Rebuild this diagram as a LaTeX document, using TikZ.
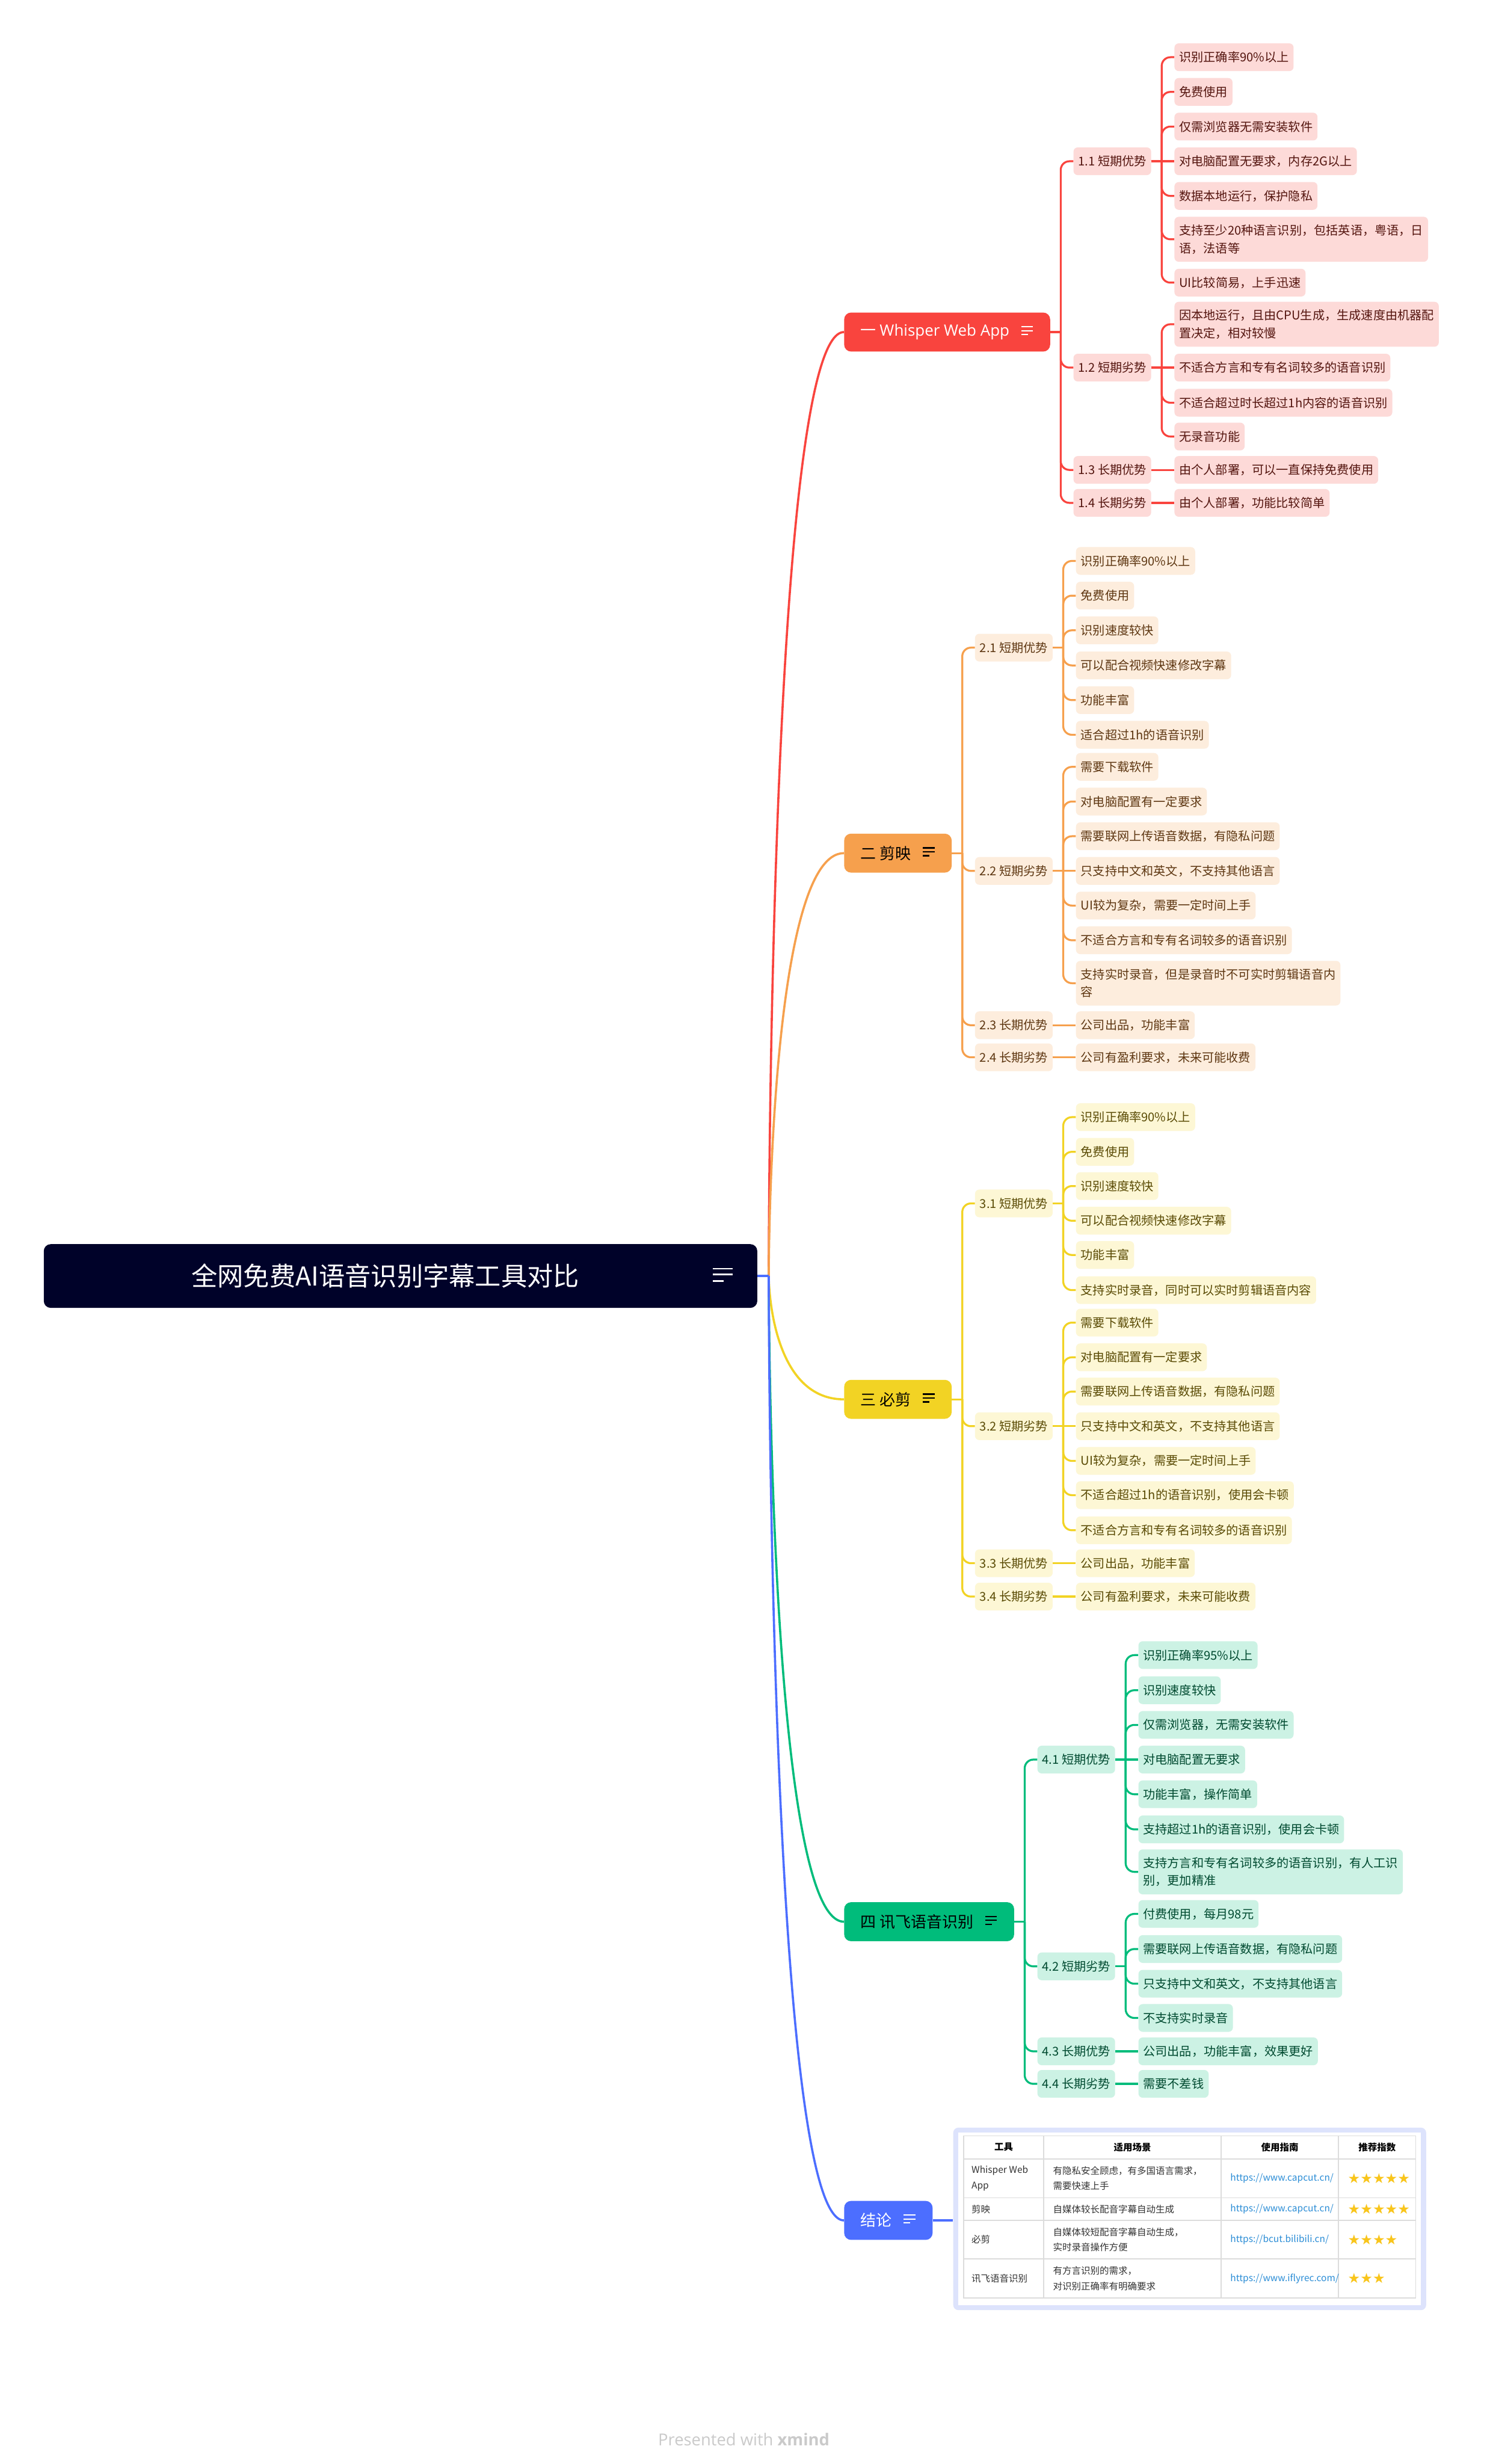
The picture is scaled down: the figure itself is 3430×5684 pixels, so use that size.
\documentclass[tikz,border=0pt]{standalone}
\usepackage{fontspec}
\setmainfont{Noto Sans CJK SC}
\newfontfamily\lat{Open Sans}
\newfontfamily\dvs{DejaVu Sans}
\definecolor{rootc}{HTML}{000229}
\definecolor{cR}{HTML}{F9443E}
\definecolor{cO}{HTML}{F6A04D}
\definecolor{cY}{HTML}{F2D324}
\definecolor{cG}{HTML}{00BC7B}
\definecolor{cB}{HTML}{4C6EFF}
\definecolor{fR}{HTML}{FDDAD8}
\definecolor{tR}{HTML}{54150F}
\definecolor{fO}{HTML}{FDEDDD}
\definecolor{tO}{HTML}{5E3712}
\definecolor{fY}{HTML}{FDF7D5}
\definecolor{tY}{HTML}{5A4B05}
\definecolor{fG}{HTML}{CCF2E4}
\definecolor{tG}{HTML}{004A30}
\definecolor{frameB}{HTML}{DDE3FC}
\definecolor{gridc}{HTML}{DCDCDC}
\definecolor{linkc}{HTML}{2B8DD6}
\definecolor{starc}{HTML}{F9C51B}
\definecolor{tblt}{HTML}{333333}
\definecolor{ftc}{HTML}{CACACA}
\tikzset{
  lf/.style={anchor=west, rounded corners=5pt, inner xsep=5.5pt, inner ysep=9pt, minimum height=32pt, align=left, font=\fontsize{14pt}{20.5pt}\selectfont},
  lfR/.style={lf, fill=fR, text=tR},
  lfO/.style={lf, fill=fO, text=tO},
  lfY/.style={lf, fill=fY, text=tY},
  lfG/.style={lf, fill=fG, text=tG},
  lone/.style={anchor=west, rounded corners=8pt, inner xsep=19pt, inner ysep=0pt, minimum height=45pt, font=\fontsize{18pt}{22pt}\selectfont},
  ln/.style={line width=2.25pt},
  rln/.style={line width=2.5pt},
  ic/.style={line width=1.5pt},
  tb/.style={anchor=west, inner sep=0pt, align=left, text=tblt, font=\fontsize{10.75pt}{17.5pt}\selectfont},
  th/.style={inner sep=0pt, text=black, font=\fontsize{10.75pt}{17.5pt}\selectfont\bfseries},
  lk/.style={anchor=west, inner sep=0pt, text=linkc, font=\fontsize{10.75pt}{17.5pt}\selectfont},
  st/.style={anchor=west, inner sep=0pt, text=starc, font=\dvs\fontsize{16pt}{16pt}\selectfont},
}
\newcommand\gapbox[1]{\hbox to #1{}}
\newcommand\kidnode[5]{%
  \path (#3.east) ++(26.5pt,0pt) coordinate (tmpa);
  \node[#1] (#2) at (tmpa |- 0,#4) {#5};}
\newcommand\elbow[3]{%
  \draw[ln,#1] (#2.east) -- ++(12pt,0pt);
  \draw[ln,#1,rounded corners=10pt] ([xshift=12pt]#2.east) |- (#3.west);}
\newcommand\flatln[3]{\draw[ln,#1] (#2.east) -- (#3.west);}
\newcommand\noteicn[2]{%
  \draw[ic,#2] ([xshift=-33.5pt,yshift=6pt]#1.east) -- ++(13.5pt,0pt);
  \draw[ic,#2] ([xshift=-33.5pt,yshift=1.5pt]#1.east) -- ++(13.5pt,0pt);
  \draw[ic,#2] ([xshift=-33.5pt,yshift=-3pt]#1.east) -- ++(7.5pt,0pt);}
\begin{document}
\begin{tikzpicture}[x=0.5pt,y=-0.5pt]
\useasboundingbox[fill=white] (0,0) rectangle (3430,5684);

% root
\node[rounded corners=8pt, minimum width=823pt, minimum height=73.5pt, inner sep=0pt, fill=rootc, text=white, font=\fontsize{30pt}{36pt}\selectfont] (root) at (924,2943.5) {全网免费AI语音识别字幕工具对比\gapbox{35pt}};
\draw[white, line width=1.9pt] ([xshift=-51.5pt,yshift=8.5pt]root.east) -- ++(23pt,0pt);
\draw[white, line width=1.9pt] ([xshift=-51.5pt,yshift=1.75pt]root.east) -- ++(23pt,0pt);
\draw[white, line width=1.9pt] ([xshift=-51.5pt,yshift=-5.75pt]root.east) -- ++(12.5pt,0pt);
\coordinate (J) at ([xshift=13pt]root.east);

% level 1
\node[lone, fill=cR, text=white] (n1) at (1947,766) {一 {\lat Whisper Web App}\gapbox{28pt}};
\node[lone, fill=cO, text=black] (n2) at (1947,1968) {二 剪映\gapbox{28pt}};
\node[lone, fill=cY, text=black] (n3) at (1947,3228) {三 必剪\gapbox{28pt}};
\node[lone, fill=cG, text=black] (n4) at (1947,4433) {四 讯飞语音识别\gapbox{28pt}};
\node[lone, fill=cB, text=white] (n5) at (1947,5122) {结论\gapbox{28pt}};
\noteicn{n1}{white}\noteicn{n2}{black}\noteicn{n3}{black}\noteicn{n4}{black}\noteicn{n5}{white}

\draw[rln,cR] (J) .. controls (J) and (J |- n1.west) .. (n1.west);
\draw[rln,cO] (J) .. controls (J) and (J |- n2.west) .. (n2.west);
\draw[rln,cY] (J) .. controls (J) and (J |- n3.west) .. (n3.west);
\draw[rln,cG] (J) .. controls (J) and (J |- n4.west) .. (n4.west);
\draw[rln,cB] (J) .. controls (J) and (J |- n5.west) .. (n5.west);
\draw[rln,cB] (root.east) -- (J);

% ===== branch 1
\kidnode{lfR}{p11}{n1}{372}{1.1 短期优势}
\kidnode{lfR}{p12}{n1}{848}{1.2 短期劣势}
\kidnode{lfR}{p13}{n1}{1084}{1.3 长期优势}
\kidnode{lfR}{p14}{n1}{1160}{1.4 长期劣势}
\elbow{cR}{n1}{p11}\elbow{cR}{n1}{p12}\elbow{cR}{n1}{p13}\elbow{cR}{n1}{p14}
\kidnode{lfR}{a1}{p11}{132}{识别正确率90\%以上}
\kidnode{lfR}{a2}{p11}{212}{免费使用}
\kidnode{lfR}{a3}{p11}{292}{仅需浏览器无需安装软件}
\kidnode{lfR}{a4}{p11}{372}{对电脑配置无要求，内存2G以上}
\kidnode{lfR}{a5}{p11}{452}{数据本地运行，保护隐私}
\kidnode{lfR}{a6}{p11}{552}{支持至少20种语言识别，包括英语，粤语，日\\语，法语等}
\kidnode{lfR}{a7}{p11}{652}{UI比较简易，上手迅速}
\elbow{cR}{p11}{a1}\elbow{cR}{p11}{a2}\elbow{cR}{p11}{a3}\flatln{cR}{p11}{a4}
\elbow{cR}{p11}{a5}\elbow{cR}{p11}{a6}\elbow{cR}{p11}{a7}
\kidnode{lfR}{b1}{p12}{748}{因本地运行，且由CPU生成，生成速度由机器配\\置决定，相对较慢}
\kidnode{lfR}{b2}{p12}{848}{不适合方言和专有名词较多的语音识别}
\kidnode{lfR}{b3}{p12}{929}{不适合超过时长超过1h内容的语音识别}
\kidnode{lfR}{b4}{p12}{1007}{无录音功能}
\elbow{cR}{p12}{b1}\flatln{cR}{p12}{b2}\elbow{cR}{p12}{b3}\elbow{cR}{p12}{b4}
\kidnode{lfR}{c1}{p13}{1084}{由个人部署，可以一直保持免费使用}
\kidnode{lfR}{d1}{p14}{1160}{由个人部署，功能比较简单}
\flatln{cR}{p13}{c1}\flatln{cR}{p14}{d1}

% ===== branch 2
\kidnode{lfO}{q21}{n2}{1494}{2.1 短期优势}
\kidnode{lfO}{q22}{n2}{2009}{2.2 短期劣势}
\kidnode{lfO}{q23}{n2}{2365}{2.3 长期优势}
\kidnode{lfO}{q24}{n2}{2439}{2.4 长期劣势}
\elbow{cO}{n2}{q21}\elbow{cO}{n2}{q22}\elbow{cO}{n2}{q23}\elbow{cO}{n2}{q24}
\kidnode{lfO}{e1}{q21}{1294}{识别正确率90\%以上}
\kidnode{lfO}{e2}{q21}{1374}{免费使用}
\kidnode{lfO}{e3}{q21}{1454}{识别速度较快}
\kidnode{lfO}{e4}{q21}{1535}{可以配合视频快速修改字幕}
\kidnode{lfO}{e5}{q21}{1615}{功能丰富}
\kidnode{lfO}{e6}{q21}{1695}{适合超过1h的语音识别}
\elbow{cO}{q21}{e1}\elbow{cO}{q21}{e2}\elbow{cO}{q21}{e3}\elbow{cO}{q21}{e4}\elbow{cO}{q21}{e5}\elbow{cO}{q21}{e6}
\kidnode{lfO}{f1}{q22}{1769}{需要下载软件}
\kidnode{lfO}{f2}{q22}{1849}{对电脑配置有一定要求}
\kidnode{lfO}{f3}{q22}{1929}{需要联网上传语音数据，有隐私问题}
\kidnode{lfO}{f4}{q22}{2009}{只支持中文和英文，不支持其他语言}
\kidnode{lfO}{f5}{q22}{2089}{UI较为复杂，需要一定时间上手}
\kidnode{lfO}{f6}{q22}{2169}{不适合方言和专有名词较多的语音识别}
\kidnode{lfO}{f7}{q22}{2268}{支持实时录音，但是录音时不可实时剪辑语音内\\容}
\elbow{cO}{q22}{f1}\elbow{cO}{q22}{f2}\elbow{cO}{q22}{f3}\flatln{cO}{q22}{f4}
\elbow{cO}{q22}{f5}\elbow{cO}{q22}{f6}\elbow{cO}{q22}{f7}
\kidnode{lfO}{g1}{q23}{2365}{公司出品，功能丰富}
\kidnode{lfO}{h1}{q24}{2439}{公司有盈利要求，未来可能收费}
\flatln{cO}{q23}{g1}\flatln{cO}{q24}{h1}

% ===== branch 3
\kidnode{lfY}{r31}{n3}{2776}{3.1 短期优势}
\kidnode{lfY}{r32}{n3}{3290}{3.2 短期劣势}
\kidnode{lfY}{r33}{n3}{3606}{3.3 长期优势}
\kidnode{lfY}{r34}{n3}{3683}{3.4 长期劣势}
\elbow{cY}{n3}{r31}\elbow{cY}{n3}{r32}\elbow{cY}{n3}{r33}\elbow{cY}{n3}{r34}
\kidnode{lfY}{i1}{r31}{2577}{识别正确率90\%以上}
\kidnode{lfY}{i2}{r31}{2657}{免费使用}
\kidnode{lfY}{i3}{r31}{2736}{识别速度较快}
\kidnode{lfY}{i4}{r31}{2816}{可以配合视频快速修改字幕}
\kidnode{lfY}{i5}{r31}{2895}{功能丰富}
\kidnode{lfY}{i6}{r31}{2976}{支持实时录音，同时可以实时剪辑语音内容}
\elbow{cY}{r31}{i1}\elbow{cY}{r31}{i2}\elbow{cY}{r31}{i3}\elbow{cY}{r31}{i4}\elbow{cY}{r31}{i5}\elbow{cY}{r31}{i6}
\kidnode{lfY}{j1}{r32}{3051}{需要下载软件}
\kidnode{lfY}{j2}{r32}{3131}{对电脑配置有一定要求}
\kidnode{lfY}{j3}{r32}{3210}{需要联网上传语音数据，有隐私问题}
\kidnode{lfY}{j4}{r32}{3290}{只支持中文和英文，不支持其他语言}
\kidnode{lfY}{j5}{r32}{3370}{UI较为复杂，需要一定时间上手}
\kidnode{lfY}{j6}{r32}{3449}{不适合超过1h的语音识别，使用会卡顿}
\kidnode{lfY}{j7}{r32}{3530}{不适合方言和专有名词较多的语音识别}
\elbow{cY}{r32}{j1}\elbow{cY}{r32}{j2}\elbow{cY}{r32}{j3}\flatln{cY}{r32}{j4}
\elbow{cY}{r32}{j5}\elbow{cY}{r32}{j6}\elbow{cY}{r32}{j7}
\kidnode{lfY}{k1}{r33}{3606}{公司出品，功能丰富}
\kidnode{lfY}{m1}{r34}{3683}{公司有盈利要求，未来可能收费}
\flatln{cY}{r33}{k1}\flatln{cY}{r34}{m1}

% ===== branch 4
\kidnode{lfG}{s41}{n4}{4059}{4.1 短期优势}
\kidnode{lfG}{s42}{n4}{4536}{4.2 短期劣势}
\kidnode{lfG}{s43}{n4}{4732}{4.3 长期优势}
\kidnode{lfG}{s44}{n4}{4807}{4.4 长期劣势}
\elbow{cG}{n4}{s41}\elbow{cG}{n4}{s42}\elbow{cG}{n4}{s43}\elbow{cG}{n4}{s44}
\kidnode{lfG}{u1}{s41}{3818}{识别正确率95\%以上}
\kidnode{lfG}{u2}{s41}{3899}{识别速度较快}
\kidnode{lfG}{u3}{s41}{3979}{仅需浏览器，无需安装软件}
\kidnode{lfG}{u4}{s41}{4059}{对电脑配置无要求}
\kidnode{lfG}{u5}{s41}{4139}{功能丰富，操作简单}
\kidnode{lfG}{u6}{s41}{4220}{支持超过1h的语音识别，使用会卡顿}
\kidnode{lfG}{u7}{s41}{4318}{支持方言和专有名词较多的语音识别，有人工识\\别，更加精准}
\elbow{cG}{s41}{u1}\elbow{cG}{s41}{u2}\elbow{cG}{s41}{u3}\flatln{cG}{s41}{u4}
\elbow{cG}{s41}{u5}\elbow{cG}{s41}{u6}\elbow{cG}{s41}{u7}
\kidnode{lfG}{v1}{s42}{4415}{付费使用，每月98元}
\kidnode{lfG}{v2}{s42}{4496}{需要联网上传语音数据，有隐私问题}
\kidnode{lfG}{v3}{s42}{4576}{只支持中文和英文，不支持其他语言}
\kidnode{lfG}{v4}{s42}{4655}{不支持实时录音}
\elbow{cG}{s42}{v1}\elbow{cG}{s42}{v2}\elbow{cG}{s42}{v3}\elbow{cG}{s42}{v4}
\kidnode{lfG}{w1}{s43}{4732}{公司出品，功能丰富，效果更好}
\kidnode{lfG}{x1}{s44}{4807}{需要不差钱}
\flatln{cG}{s43}{w1}\flatln{cG}{s44}{x1}

% ===== conclusion table
\node[fill=frameB, rounded corners=6pt, minimum width=545.5pt, minimum height=210.5pt, inner sep=0pt] (tbl) at (2744.5,5118.5) {};
\draw[ln,cB] (n5.east) -- (n5.east -| tbl.west);
\fill[white] (2211,4920) rectangle (3278,5317);
\draw[gridc, line width=1.25pt] (2223,4927) rectangle (3266,5301);
\draw[gridc, line width=1.25pt] (2408,4927) -- (2408,5301) (2817,4927) -- (2817,5301) (3088,4927) -- (3088,5301);
\draw[gridc, line width=1.25pt] (2223,4980) -- (3266,4980) (2223,5070) -- (3266,5070) (2223,5122) -- (3266,5122) (2223,5211) -- (3266,5211);
\node[th] (h1) at (2315.5,4953) {工具};
\node[th] (h2) at (2612.5,4953) {适用场景};
\node[th] (h3) at (2952.5,4953) {使用指南};
\node[th] (h4) at (3177,4953) {推荐指数};
\node[tb] (t11) at (2241,5025) {Whisper Web\\App};
\node[tb] (t12) at (2429,5025) {有隐私安全顾虑，有多国语言需求，\\需要快速上手};
\node[lk] (t13) at (2838,5025) {https://www.capcut.cn/};
\node[st] (t14) at (3109,5025) {★★★★★};
\node[tb] (t21) at (2241,5096) {剪映};
\node[tb] (t22) at (2429,5096) {自媒体较长配音字幕自动生成};
\node[lk] (t23) at (2838,5096) {https://www.capcut.cn/};
\node[st] (t24) at (3109,5096) {★★★★★};
\node[tb] (t31) at (2241,5166) {必剪};
\node[tb] (t32) at (2429,5166) {自媒体较短配音字幕自动生成，\\实时录音操作方便};
\node[lk] (t33) at (2838,5166) {https://bcut.bilibili.cn/};
\node[st] (t34) at (3109,5166) {★★★★};
\node[tb] (t41) at (2241,5256) {讯飞语音识别};
\node[tb] (t42) at (2429,5256) {有方言识别的需求，\\对识别正确率有明确要求};
\node[lk] (t43) at (2838,5256) {https://www.iflyrec.com/};
\node[st] (t44) at (3109,5256) {★★★};

% footer
\node[anchor=base, inner sep=0pt, text=ftc, font=\lat\fontsize{19pt}{22pt}\selectfont] (ft) at (1716,5641) {Presented with \textbf{xmind}};
\end{tikzpicture}
\end{document}
